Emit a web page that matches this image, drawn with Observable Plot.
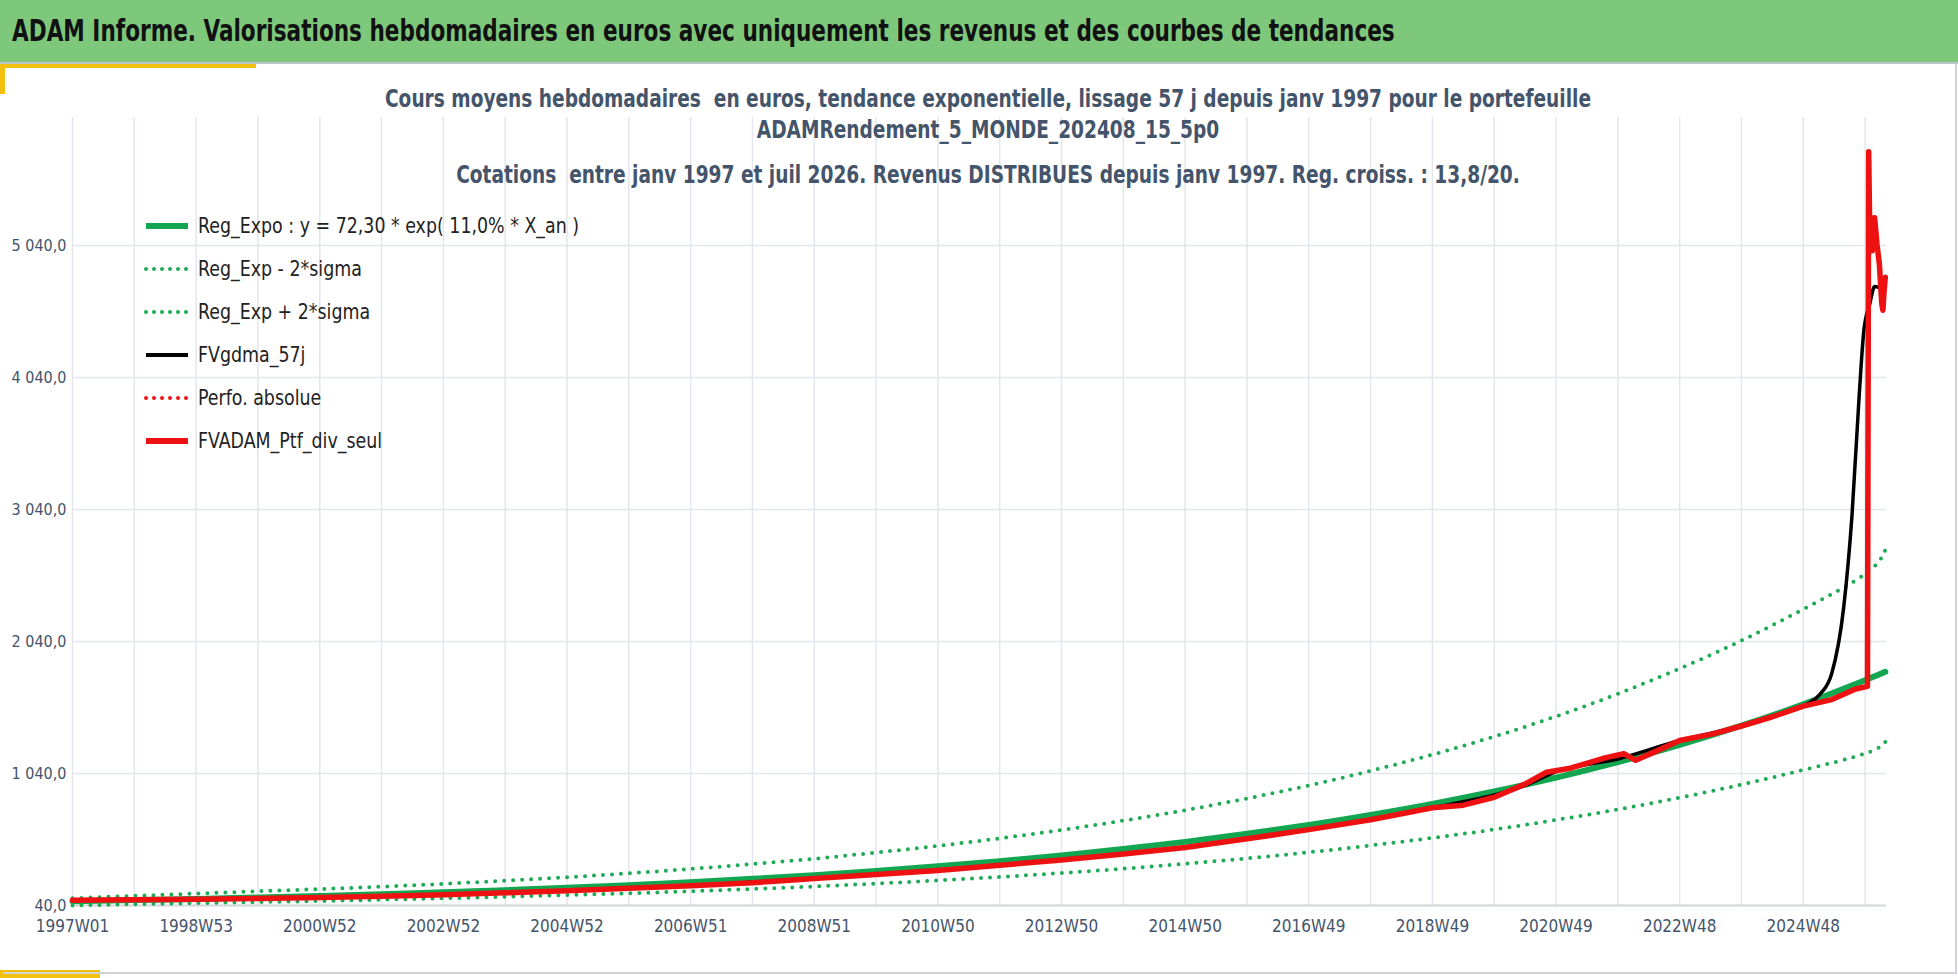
<!DOCTYPE html>
<html><head><meta charset="utf-8">
<script src="https://cdn.jsdelivr.net/npm/d3@7"></script>
<script src="https://cdn.jsdelivr.net/npm/@observablehq/plot@0.6"></script>
<style>
body{margin:0;width:1958px;height:978px;overflow:hidden;background:#fff;font-family:"Liberation Sans Narrow","DejaVu Sans Condensed","Roboto",sans-serif;}
#hdr{position:absolute;left:0;top:0;width:1958px;height:62px;background:#7ec87b;border-bottom:2px solid #bfc4cc;}
#hdr div{position:absolute;left:12px;top:13px;font-size:30px;font-weight:600;color:#111;transform:scaleX(0.8);transform-origin:left;white-space:nowrap}
#sub{position:absolute;left:0;width:1976px;top:84px;text-align:center;color:#44546a;font-weight:bold;font-size:24px;line-height:31px;z-index:2;transform:scaleX(0.86);transform-origin:988px 0;}
#chart{position:absolute;left:0;top:62px;}
#leg{position:absolute;left:142px;top:204px;z-index:2;font-size:22px;color:#222;}
#leg div{height:43px;display:flex;align-items:center}
#leg span{display:inline-block;transform:scaleX(0.88);transform-origin:left;white-space:nowrap}
#leg svg{margin-right:6px}
.frame{position:absolute;left:3px;top:64px;width:1952px;height:908px;border-right:2px solid #d0d3d8;border-bottom:2px solid #d0d3d8;pointer-events:none}
</style></head><body>
<div id="hdr"><div>ADAM Informe. Valorisations hebdomadaires en euros avec uniquement les revenus et des courbes de tendances</div></div>
<div style="position:absolute;left:0;top:64px;width:256px;height:4px;background:#f2c00f"></div>
<div style="position:absolute;left:0;top:64px;width:5px;height:30px;background:#f2c00f"></div>
<div style="position:absolute;left:0;top:970px;width:100px;height:8px;background:#f2c00f"></div>
<div class="frame"></div>
<div id="sub">Cours moyens hebdomadaires &nbsp;en euros, tendance exponentielle, lissage 57 j depuis janv 1997 pour le portefeuille<br>ADAMRendement_5_MONDE_202408_15_5p0<br><span style="display:inline-block;margin-top:14px">Cotations &nbsp;entre janv 1997 et juil 2026. Revenus DISTRIBUES depuis janv 1997. Reg. croiss. : 13,8/20.</span></div>
<div id="leg"></div>
<div id="chart"></div>
<script>
// week index from 1997W01
const trendWeeks = [0,52,104,156,208,260,312,364,416,468,520,572,624,676,728,780,832,884,936,988,1040,1092,1144,1196,1248,1300,1352,1404,1456,1508,1525];
const trendVals  = [72,81,90,101,112,125,140,156,174,194,217,242,270,302,337,376,419,468,522,583,650,726,810,904,1009,1126,1257,1402,1565,1747,1810];
const lowVals    = [40,50,58,66,74,84,95,106,119,132,148,165,184,206,230,256,286,319,356,397,443,495,552,616,688,768,857,956,1067,1191,1278];
const highVals   = [95,113,130,148,164,183,204,228,254,284,317,354,394,441,492,549,612,683,762,851,949,1060,1183,1320,1473,1644,1835,2047,2285,2551,2734];
const ptfWeeks = [0,52,104,156,208,260,312,364,416,468,520,572,600,624,676,728,780,832,884,936,988,1040,1092,1144,1170,1196,1222,1240,1260,1290,1305,1315,1330,1352,1380,1404,1430,1456,1480,1500,1510,1511,1512,1513,1514,1515,1516,1517,1518,1520,1522,1523,1524,1525];
const ptfVals  = [80,84,88,93,100,110,122,136,152,170,190,212,230,245,275,305,345,385,430,480,545,615,690,780,800,860,960,1050,1080,1160,1190,1140,1200,1290,1340,1400,1470,1550,1600,1680,1700,5750,5100,5250,5000,5200,5250,5150,5050,4900,4600,4550,4700,4800];
const mmWeeks = [0,104,208,312,416,520,624,728,832,936,1040,1144,1222,1250,1300,1352,1404,1440,1460,1470,1480,1490,1497,1503,1507,1512,1516,1520,1523,1525];
const mmVals  = [80,88,100,122,152,190,245,305,385,480,615,780,950,1060,1150,1290,1400,1500,1570,1640,1800,2300,3000,3900,4400,4600,4730,4720,4680,4760];
const xTickWeeks = [0,104,208,312,416,520,624,728,832,936,1040,1144,1248,1352,1456];
const xTickLabels = ["1997W01","1998W53","2000W52","2002W52","2004W52","2006W51","2008W51","2010W50","2012W50","2014W50","2016W49","2018W49","2020W49","2022W48","2024W48"];
const yTicks = [40,1040,2040,3040,4040,5040];

const trend = trendWeeks.map((w,i)=>({w,v:trendVals[i],lo:lowVals[i],hi:highVals[i]}));
const ptf = ptfWeeks.map((w,i)=>({w,v:ptfVals[i]}));
const mm = mmWeeks.map((w,i)=>({w,v:mmVals[i]}));
const vgrid = d3.range(0,1509,52);
const fmt = v => d3.format(",.1f")(v).replace(/,/g," ").replace(".",",");
const tick = new Map(xTickWeeks.map((w,i)=>[w,xTickLabels[i]]));
const font = '"Liberation Sans Narrow","DejaVu Sans Condensed",sans-serif';

const plot = Plot.plot({
  width:1958, height:890,
  marginLeft:72, marginRight:72, marginTop:55, marginBottom:47,
  x:{domain:[0,1526], ticks:xTickWeeks, tickFormat:w=>tick.get(w), tickSize:0, label:null},
  y:{domain:[40,6010], ticks:yTicks, tickFormat:fmt, tickSize:0, label:null},
  style:{fontFamily:font, fontSize:"17px", color:"#44546a", overflow:"visible"},
  marks:[
    Plot.ruleX(vgrid,{x:d=>d,stroke:"#e3e6ec",strokeWidth:1.5}),
    Plot.ruleY(yTicks,{y:d=>d,stroke:"#e3e6ec",strokeWidth:1.5}),
    Plot.ruleY([40],{stroke:"#d5d8de",strokeWidth:2}),
    Plot.axisX({ticks:xTickWeeks,tickFormat:w=>tick.get(w),tickSize:0,tickPadding:14,fontSize:17}),
    Plot.axisY({ticks:yTicks,tickFormat:fmt,tickSize:0,tickPadding:6,fontSize:16}),
    Plot.line(trend,{x:"w",y:"lo",stroke:"#1faa55",strokeWidth:4,strokeDasharray:"0 9",strokeLinecap:"round",curve:"natural"}),
    Plot.line(trend,{x:"w",y:"hi",stroke:"#1faa55",strokeWidth:4,strokeDasharray:"0 9",strokeLinecap:"round",curve:"natural"}),
    Plot.line(trend,{x:"w",y:"v",stroke:"#12a650",strokeWidth:6,curve:"natural"}),
    Plot.line(mm,{x:"w",y:"v",stroke:"#000",strokeWidth:3.5,curve:"monotone-x"}),
    Plot.line(ptf,{x:"w",y:"v",stroke:"#ee1111",strokeWidth:5.5,strokeLinejoin:"round"})
  ]
});
document.getElementById("chart").append(plot);

const legItems = [
  ["Reg_Expo : y = 72,30 * exp( 11,0% *  X_an )","#12a650",6,null],
  ["Reg_Exp - 2*sigma","#1faa55",4,"0 8"],
  ["Reg_Exp + 2*sigma","#1faa55",4,"0 8"],
  ["FVgdma_57j","#000",4,null],
  ["Perfo. absolue","#ee1111",4,"0 8"],
  ["FVADAM_Ptf_div_seul","#ee1111",6,null]
];
const leg = document.getElementById("leg");
for (const [t,c,w,da] of legItems){
  const d=document.createElement("div");
  d.innerHTML=`<svg width="50" height="10"><line x1="4" x2="46" y1="5" y2="5" stroke="${c}" stroke-width="${w}" ${da?`stroke-dasharray="${da}" stroke-linecap="round"`:""}/></svg><span>${t}</span>`;
  leg.append(d);
}
</script>
</body></html>
